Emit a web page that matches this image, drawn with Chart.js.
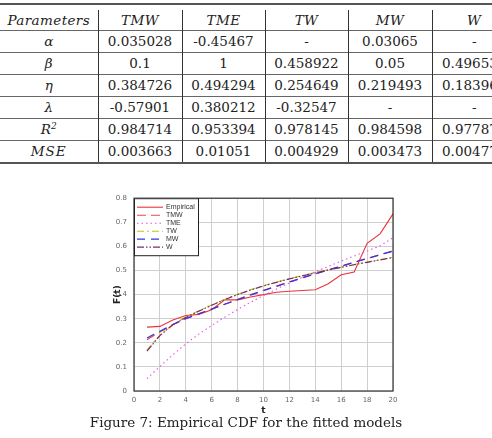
<!DOCTYPE html>
<html>
<head>
<meta charset="utf-8">
<script src="https://cdn.jsdelivr.net/npm/chart.js@4/dist/chart.umd.min.js"></script>
<style>
html,body{margin:0;padding:0;background:#fff;width:492px;height:438px;overflow:hidden;position:relative;}
.rule{position:absolute;left:0;width:492px;height:2px;background:#555;}
table{position:absolute;left:0;top:10px;border-collapse:collapse;font-family:"DejaVu Serif",serif;font-size:13.5px;color:#222;table-layout:fixed;width:516px;}
td{text-align:center;padding:0;height:21px;line-height:21px;white-space:nowrap;overflow:hidden;}
td+td{border-left:1px solid #333;}
tr.h td{height:20px;line-height:20px;font-style:italic;letter-spacing:0.4px;}
tr.r td{border-top:1px solid #666;}
#wrap{position:absolute;left:100px;top:187px;width:305px;height:229px;}
#cap{position:absolute;left:0;width:492px;top:414px;text-align:center;font-family:"DejaVu Serif",serif;font-size:13.5px;color:#222;}
</style>
</head>
<body>
<div class="rule" style="top:3px"></div>
<table id="tbl">
<colgroup><col style="width:98px"><col style="width:84px"><col style="width:83px"><col style="width:83px"><col style="width:84px"><col style="width:84px"></colgroup>
<tbody id="tb"></tbody>
</table>
<div class="rule" style="top:162px"></div>
<div id="wrap"><canvas id="c" width="305" height="229"></canvas></div>
<div id="cap">Figure 7: Empirical CDF for the fitted models</div>
<script>
// ---- table data ----
const tableHeader = ["Parameters","TMW","TME","TW","MW","W"];
const rowAlpha  = ["α","0.035028","-0.45467","-","0.03065","-"];
const rowBeta   = ["β","0.1","1","0.458922","0.05","0.496532"];
const rowEta    = ["η","0.384726","0.494294","0.254649","0.219493","0.183961"];
const rowLambda = ["λ","-0.57901","0.380212","-0.32547","-","-"];
const rowR2     = ["R<sup style='font-size:9px;line-height:0'>2</sup>","0.984714","0.953394","0.978145","0.984598","0.977871"];
const rowMSE    = ["MSE","0.003663","0.01051","0.004929","0.003473","0.004771"];

// ---- chart data ----
const tValues = [1,2,3,4,5,6,7,8,9,10,11,12,13,14,15,16,17,18,19,20];
const empirical = [0.265,0.268,0.295,0.313,0.318,0.337,0.378,0.378,0.39,0.40,0.41,0.414,0.417,0.42,0.445,0.482,0.494,0.613,0.652,0.735];
const tmw = [0.213,0.245,0.275,0.300,0.320,0.340,0.360,0.380,0.400,0.418,0.436,0.453,0.470,0.486,0.502,0.518,0.534,0.550,0.566,0.582];
const tme = [0.051,0.102,0.150,0.196,0.236,0.272,0.306,0.338,0.368,0.396,0.423,0.448,0.472,0.495,0.517,0.539,0.560,0.581,0.602,0.636];
const tw  = [0.170,0.232,0.276,0.307,0.333,0.357,0.380,0.401,0.420,0.437,0.452,0.466,0.479,0.491,0.503,0.514,0.525,0.535,0.545,0.555];
const mw  = [0.220,0.248,0.276,0.300,0.320,0.340,0.360,0.379,0.398,0.416,0.434,0.452,0.469,0.486,0.502,0.518,0.534,0.550,0.565,0.580];
const wv  = [0.165,0.230,0.275,0.305,0.331,0.356,0.379,0.400,0.419,0.436,0.451,0.465,0.478,0.490,0.502,0.513,0.524,0.534,0.544,0.554];
const xTicks = [0,2,4,6,8,10,12,14,16,18,20];
const yTicks = [0,0.1,0.2,0.3,0.4,0.5,0.6,0.7,0.8];

const tb = document.getElementById('tb');
[tableHeader,rowAlpha,rowBeta,rowEta,rowLambda,rowR2,rowMSE].forEach((row,i)=>{
  const tr = document.createElement('tr');
  tr.className = i===0 ? 'h' : 'r';
  row.forEach((v,j)=>{
    const td = document.createElement('td');
    td.innerHTML = v;
    if (j===0 && i>0) td.style.fontStyle='italic';
    if (j===0 && i===6) td.style.letterSpacing='1px';
    tr.appendChild(td);
  });
  tb.appendChild(tr);
});

const mk = (label,data,color,dash,w,order)=>({label,data:data.map((y,i)=>({x:tValues[i],y})),borderColor:color,backgroundColor:color,borderDash:dash,borderWidth:w||1.1,pointRadius:0,tension:0,fill:false,order});
const datasets = [
  mk('Empirical',empirical,'#e8343a',[],1.1,5),
  mk('TMW',tmw,'#e8474d',[9,5],1.1,4),
  mk('TME',tme,'#e455e6',[1.5,3],1.1,3),
  mk('TW',tw,'#b7c61c',[7,3,2,3],1.1,2),
  mk('MW',mw,'#3434e0',[8,6],1.3,1),
  mk('W',wv,'#7a2a6a',[7,2,1.5,2,1.5,2],1.2,0)
];

const frameLegend = {
  id:'frameLegend',
  afterDraw(chart){
    const ctx = chart.ctx, a = chart.chartArea;
    ctx.save();
    ctx.strokeStyle='#333'; ctx.lineWidth=1.2; ctx.setLineDash([]);
    ctx.strokeRect(a.left,a.top,a.right-a.left,a.bottom-a.top);
    // legend box
    const bx=a.left, by=a.top, bw=64, bh=57;
    ctx.fillStyle='#fff'; ctx.fillRect(bx,by,bw,bh);
    ctx.strokeStyle='#222'; ctx.lineWidth=1; ctx.strokeRect(bx+0.5,by+0.5,bw,bh);
    ctx.font='7px "Liberation Sans", Arial, sans-serif';
    ctx.textBaseline='middle';
    chart.data.datasets.forEach((ds,i)=>{
      const y = by+9+i*8;
      ctx.strokeStyle=ds.borderColor; ctx.lineWidth=ds.borderWidth; ctx.setLineDash(ds.borderDash);
      ctx.beginPath(); ctx.moveTo(bx+3,y); ctx.lineTo(bx+29,y); ctx.stroke();
      ctx.setLineDash([]);
      ctx.fillStyle='#333'; ctx.fillText(ds.label,bx+32,y);
    });
    ctx.restore();
  }
};

new Chart(document.getElementById('c'),{
  type:'line',
  data:{datasets},
  options:{
    responsive:false,animation:false,
    layout:{padding:{top:4,right:12,left:12,bottom:0}},
    plugins:{legend:{display:false},tooltip:{enabled:false}},
    scales:{
      x:{type:'linear',min:0,max:20,
        afterBuildTicks(s){s.ticks=xTicks.map(v=>({value:v}));},
        afterFit(s){s.height=25;},
        grid:{color:'#cfcfcf',lineWidth:1,drawTicks:false},
        border:{display:false},
        ticks:{padding:5,color:'#666',font:{size:7,family:'"DejaVu Sans", sans-serif'},maxRotation:0},
        title:{display:true,text:'t',color:'#222',font:{size:9,weight:'bold',family:'"DejaVu Sans", sans-serif'},padding:{top:0,bottom:0}}
      },
      y:{type:'linear',min:0,max:0.8,
        afterBuildTicks(s){s.ticks=yTicks.map(v=>({value:v}));},
        afterFit(s){s.width=22;},
        grid:{color:'#cfcfcf',lineWidth:1,drawTicks:false},
        border:{display:false},
        ticks:{padding:7,color:'#666',font:{size:7,family:'"DejaVu Sans", sans-serif'},callback:v=>String(+v.toFixed(1))},
        title:{display:true,text:'F(t)',color:'#222',font:{size:9,weight:'bold',family:'"DejaVu Sans", sans-serif'},padding:{top:0,bottom:0}}
      }
    }
  },
  plugins:[frameLegend]
});
</script>
</body>
</html>
